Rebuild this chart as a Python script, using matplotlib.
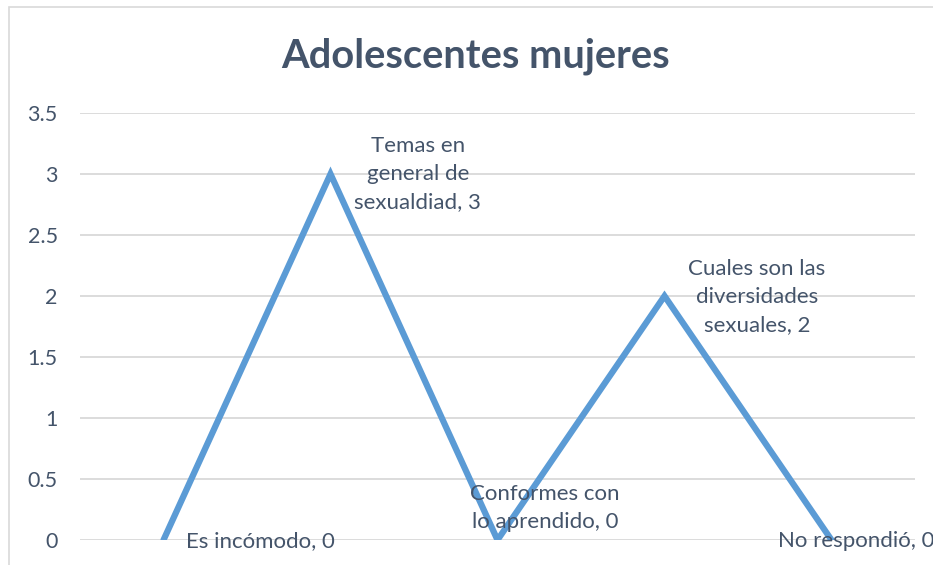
import matplotlib.pyplot as plt
from matplotlib.patches import Rectangle

categorias = ['Es incómodo', 'Temas en general de sexualdiad', 'Conformes con lo aprendido',
              'Cuales son las diversidades sexuales', 'No respondió']
valores = [0, 3, 0, 2, 0]
etiquetas = ['Es incómodo, 0', 'Temas en\ngeneral de\nsexualdiad, 3', 'Conformes con\nlo aprendido, 0',
             'Cuales son las\ndiversidades\nsexuales, 2', 'No respondió, 0']
yticks = [0, 0.5, 1, 1.5, 2, 2.5, 3, 3.5]

W, H = 933, 565
txt = '#44546A'
plt.rcParams['font.family'] = ['Lato', 'DejaVu Sans']

fig = plt.figure(figsize=(W / 100, H / 100), dpi=100)
fig.patches.append(Rectangle((9 / W, -0.1), 1.2, 1 - 7 / H + 0.1, transform=fig.transFigure,
                             fill=False, edgecolor='#D9D9D9', linewidth=1.2))

ax = fig.add_axes([80 / W, 1 - 540 / H, (915 - 80) / W, (540 - 113) / H])
x = list(range(len(valores)))
ax.plot(x, valores, color='#5B9BD5', linewidth=4.5, solid_capstyle='round', solid_joinstyle='miter', zorder=3)
ax.set_xlim(-0.5, len(valores) - 0.5)
ax.set_ylim(0, 3.5)
ax.set_yticks(yticks)
ax.set_yticklabels(['0', '0.5', '1', '1.5', '2', '2.5', '3', '3.5'])
ax.set_xticks([])
ax.tick_params(axis='y', length=0, pad=16, labelsize=15.5, labelcolor=txt)
ax.grid(axis='y', color='#D9D9D9', linewidth=1.3)
ax.set_axisbelow(True)
for s in ax.spines.values():
    s.set_visible(False)

# offsets of the label's left edge / centre from the point, in pixels
offs = [(23, -1), (24, 0), (-27, 32), (24, -1), (-53, -1)]
for i, (lab, (dx, dy)) in enumerate(zip(etiquetas, offs)):
    ax.annotate(lab, (x[i], valores[i]), xytext=(dx, dy), textcoords='offset pixels',
                ha='left', va='center', multialignment='center', fontsize=16, color=txt,
                linespacing=1.5, annotation_clip=False, zorder=4)

fig.text(476 / W, 1 - 56 / H, 'Adolescentes mujeres', ha='center', va='center',
         fontsize=28.7, fontweight='bold', color=txt)

fig.savefig('out.png', dpi=100)
